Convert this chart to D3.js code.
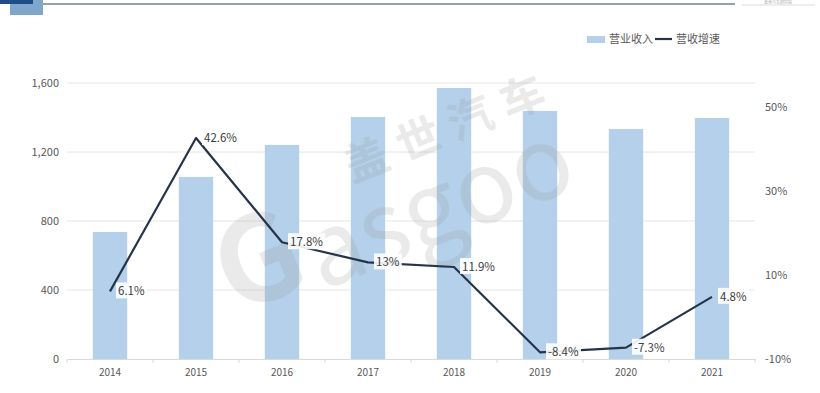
<!DOCTYPE html>
<html>
<head>
<meta charset="utf-8">
<script src="https://cdn.jsdelivr.net/npm/d3@7"></script>
<style>
  body { margin: 0; background: #fff; }
  text { font-family: "Noto Sans CJK SC", "Noto Sans", sans-serif; }
</style>
</head>
<body>
<div id="chart"></div>
<script>
// data
const years = ["2014", "2015", "2016", "2017", "2018", "2019", "2020", "2021"];
const revenue = [736, 1055, 1241, 1403, 1571, 1438, 1333, 1397];
const growth = [6.1, 42.6, 17.8, 13, 11.9, -8.4, -7.3, 4.8];
const leftTicks = [0, 400, 800, 1200, 1600];
const rightTicks = [-10, 10, 30, 50];

const W = 820, H = 393;
const margin = {top: 83, right: 65, bottom: 34, left: 67};
const width = W - margin.left - margin.right;
const height = H - margin.top - margin.bottom;

const svg = d3.select("#chart").append("svg")
    .attr("width", W)
    .attr("height", H);

// header decoration
svg.append("rect").attr("x", 10).attr("y", 0).attr("width", 33).attr("height", 15).attr("fill", "#7fa7cc");
svg.append("rect").attr("x", 0).attr("y", 0).attr("width", 33).attr("height", 4).attr("fill", "#1d4f86");
svg.append("line").attr("x1", 43).attr("x2", 735).attr("y1", 4).attr("y2", 4)
    .attr("stroke", "#6e8294").attr("stroke-width", 1.5);
svg.append("line").attr("x1", 742).attr("x2", 815).attr("y1", 5).attr("y2", 5)
    .attr("stroke", "#ddd").attr("stroke-width", 1);
svg.append("text").attr("x", 778).attr("y", 4).attr("text-anchor", "middle")
    .attr("font-size", 4).attr("fill", "#aaa").text("盖世汽车研究院");

const g = svg.append("g").attr("transform", `translate(${margin.left},${margin.top})`);

const x = d3.scaleBand().domain(years).range([0, width]).paddingInner(0.6).paddingOuter(0.3);
const xb = d3.scaleBand().domain(years).range([0, width]);
const yL = d3.scaleLinear().domain([0, 1600]).range([height, 0]);
const yR = d3.scaleLinear().domain([-10, 55.7]).range([height, 0]);

// grid
g.append("g").selectAll("line").data(leftTicks.slice(1)).join("line")
    .attr("x1", 0).attr("x2", width)
    .attr("y1", d => yL(d)).attr("y2", d => yL(d))
    .attr("stroke", "#e6e6e6");

// bars
g.append("g").selectAll("rect").data(revenue).join("rect")
    .attr("x", (d, i) => x(years[i]))
    .attr("y", d => yL(d))
    .attr("width", x.bandwidth())
    .attr("height", d => height - yL(d))
    .attr("fill", "#b4d0ea");

// watermark (over the bars, very faint)
const wm = g.append("g").attr("fill", "#9a9a9a").attr("opacity", 0.2);
wm.append("text").attr("transform", "translate(168,232) rotate(-22)")
    .attr("font-size", 118).attr("font-family", "DejaVu Sans, sans-serif").attr("font-weight", "bold")
    .text("G");
wm.append("text").attr("transform", "translate(255,208) rotate(-22)")
    .attr("font-size", 100).attr("font-family", "DejaVu Sans, sans-serif")
    .text("asgoo");
wm.append("text").attr("transform", "translate(285,100) rotate(-22)")
    .attr("font-size", 44).attr("font-weight", "bold").attr("letter-spacing", 12)
    .text("盖世汽车");

// x axis
const xAxis = g.append("g").attr("transform", `translate(0,${height})`)
    .call(d3.axisBottom(xb).tickSize(0).tickPadding(10));
xAxis.select(".domain").attr("stroke", "#d9d9d9");
xAxis.selectAll("text").attr("font-size", 10).attr("fill", "#595959")
    .attr("font-family", "Liberation Sans Narrow, Liberation Sans, sans-serif");
xAxis.append("g").selectAll("line").data(years.concat(["end"])).join("line")
    .attr("x1", (d, i) => i * xb.step()).attr("x2", (d, i) => i * xb.step())
    .attr("y1", 0).attr("y2", 4).attr("stroke", "#d9d9d9");

// left axis
const yAxisL = g.append("g")
    .call(d3.axisLeft(yL).tickValues(leftTicks).tickFormat(d3.format(",")).tickSize(0).tickPadding(8));
yAxisL.select(".domain").remove();
yAxisL.selectAll("text").attr("font-size", 11).attr("fill", "#595959");

// right axis
const yAxisR = g.append("g").attr("transform", `translate(${width},0)`)
    .call(d3.axisRight(yR).tickValues(rightTicks).tickFormat(d => d + "%").tickSize(0).tickPadding(10));
yAxisR.select(".domain").remove();
yAxisR.selectAll("text").attr("font-size", 11).attr("fill", "#595959");

// line
const cx = i => xb(years[i]) + xb.bandwidth() / 2;
const line = d3.line().x((d, i) => cx(i)).y(d => yR(d));
g.append("path").datum(growth)
    .attr("d", line)
    .attr("fill", "none")
    .attr("stroke", "#26344a")
    .attr("stroke-width", 2.2)
    .attr("stroke-linejoin", "round");

// labels
const lab = g.append("g").selectAll("g").data(growth).join("g")
    .attr("transform", (d, i) => `translate(${cx(i) + 6},${yR(d)})`);
lab.append("text")
    .attr("x", 2).attr("dy", "0.35em")
    .attr("font-size", 11.5).attr("fill", "#404040")
    .text(d => d + "%");
lab.each(function() {
    const t = d3.select(this).select("text");
    const bb = t.node().getBBox();
    d3.select(this).insert("rect", "text")
        .attr("x", bb.x - 2).attr("y", bb.y)
        .attr("width", bb.width + 4).attr("height", bb.height)
        .attr("fill", "#fff").attr("opacity", 0.9);
});

// legend
const leg = svg.append("g").attr("transform", "translate(587,39)");
leg.append("rect").attr("x", 0).attr("y", -3).attr("width", 18).attr("height", 7).attr("fill", "#b4d0ea");
leg.append("text").attr("x", 22).attr("dy", "0.35em").attr("font-size", 11).attr("fill", "#595959").text("营业收入");
leg.append("line").attr("x1", 68).attr("x2", 85).attr("y1", 0).attr("y2", 0)
    .attr("stroke", "#26344a").attr("stroke-width", 2.2);
leg.append("text").attr("x", 89).attr("dy", "0.35em").attr("font-size", 11).attr("fill", "#595959").text("营收增速");
</script>
</body>
</html>
